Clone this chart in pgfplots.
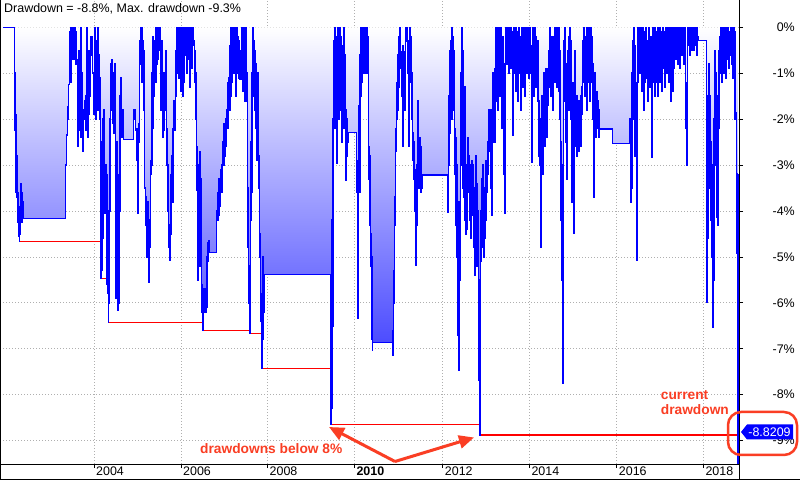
\documentclass[border=0pt]{standalone}
\usepackage{fontspec}
\setmainfont{Liberation Sans}
\usepackage{pgfplots}
\pgfplotsset{compat=1.18}
\usepackage{pgfplotstable}
\usetikzlibrary{arrows.meta}
\definecolor{ddblue}{RGB}{0,0,255}
\definecolor{fillblue}{RGB}{24,24,255}
\definecolor{annot}{RGB}{250,62,36}
\definecolor{gridgray}{RGB}{175,175,175}

\pgfplotstableread[row sep=\\]{
x y\\
3 0\\ 14 0\\ 14.5 -1.0\\ 15 -2.25\\ 15.5 -1.9\\ 16 -3.6\\ 16.5 -2.8\\ 17 -3.7\\ 17.5 -3.6\\ 18 -4.25\\ 18.5 -3.9\\ 19 -4.55\\ 19.3 -4.66\\ 19.7 -4.0\\ 20.2 -4.5\\ 20.6 -3.4\\ 21 -4.1\\ 21.5 -3.6\\ 22 -4.25\\ 22.5 -3.8\\ 22.8 -4.16\\
65.7 -3.0\\ 66.7 -2.35\\ 67.3 -1.74\\ 68 -2.0\\ 68.7 -1.25\\ 69.3 -1.1\\ 70 -0.1\\ 70.4 -1.2\\ 70.8 0\\ 71.3 -0.9\\ 71.7 0\\ 72.2 -0.7\\ 72.7 -0.2\\ 73.3 -0.7\\ 74 0\\ 74.5 -0.6\\ 75 0\\ 75.5 -0.8\\ 76 -0.1\\ 76.5 -0.7\\ 77.3 -2.6\\ 77.8 -1.5\\ 78.5 -2.25\\ 79 -0.5\\ 80 -1.2\\ 80.5 0\\ 81.2 -2.4\\ 81.8 -1.0\\ 82.5 -2.7\\ 83 -1.8\\ 84 -2.0\\ 84.5 -1.6\\ 85.3 -2.25\\ 86 -1.5\\ 86.8 0\\ 87.5 -2.4\\ 88 -0.5\\ 89 -1.9\\ 89.5 -0.8\\ 90 -1.5\\ 90.5 -0.6\\ 91.2 -0.2\\ 92 -0.6\\ 92.7 -1.0\\ 93.5 -1.9\\ 94 -1.2\\ 95 0\\ 95.5 -1.3\\ 96 -2.0\\ 96.5 -0.3\\ 97 -1.2\\ 97.5 0\\ 98 -1.8\\ 98.7 -0.6\\ 99.3 -2.0\\ 100 -1.1\\
100.5 -4.8\\ 100.8 -5.47\\ 101.3 -5.3\\ 101.8 -2.5\\ 102.3 -4.6\\ 102.8 -2.0\\ 103.3 -1.8\\ 103.8 -2.9\\ 104.2 -2.1\\ 104.7 -3.9\\ 105.2 -4.05\\ 105.7 -3.0\\ 106.2 -4.0\\ 106.7 -5.6\\ 107.2 -3.2\\ 107.7 -5.8\\ 108.3 -6.42\\ 108.7 -6.0\\ 109.2 -4.0\\
109.8 -2.0\\ 110.3 -0.8\\ 111 -1.8\\ 111.7 -0.7\\ 112.3 -1.5\\ 113 -2.1\\ 113.5 -1.0\\ 114.2 -2.3\\ 114.8 -0.8\\ 115.3 -3.5\\ 115.8 -5.9\\ 116.3 -4.5\\ 116.8 -2.5\\ 117.3 -6.16\\ 117.8 -5.5\\ 118.3 -6.0\\ 118.8 -3.2\\ 119.3 -4.0\\ 119.8 -1.5\\ 120.3 -2.3\\ 120.8 -1.1\\ 121.5 -1.8\\ 122 -2.4\\ 122.7 -1.8\\ 123.3 -2.44\\
133.3 -1.8\\ 134 -2.0\\ 134.7 -1.8\\ 135.3 -2.2\\ 136 -2.25\\ 136.7 -2.9\\ 137.3 -2.2\\ 138 -4.05\\ 138.3 -2.5\\ 139 -2.1\\ 139.5 -0.3\\ 140 -0.5\\ 140.5 0\\ 141 -0.8\\ 141.5 0\\ 142 -1.2\\ 142.7 -0.3\\ 143.3 -1.8\\ 144 -0.5\\ 144.7 -3.5\\ 145.3 -4.3\\ 145.8 -3.7\\ 146.3 -4.6\\ 147 -5.0\\ 147.5 -3.8\\ 148 -4.85\\ 149 -5.55\\ 149.5 -4.2\\ 150 -4.8\\ 150.5 -3.2\\ 151 -2.9\\ 151.5 -3.0\\ 152 -1.0\\ 152.5 -2.2\\ 153 -0.2\\ 153.5 -1.5\\ 154 -0.5\\ 154.5 -0.3\\ 155 -0.8\\ 155.5 0\\ 156 -1.2\\ 156.5 -0.2\\ 157 -0.8\\ 157.5 0\\ 158 -0.7\\ 158.5 -0.1\\ 159 -0.5\\ 159.5 0\\ 160 -0.3\\ 160.5 -1.8\\ 161 -0.5\\ 161.5 -1.2\\ 162 -0.3\\ 162.5 -1.0\\ 163 -2.4\\ 163.5 -1.5\\ 164 -2.25\\ 164.5 -1.0\\ 165 -1.8\\ 165.5 -0.5\\ 166 -1.5\\
166.7 -3.0\\ 167.2 -2.2\\ 167.7 -4.0\\ 168.2 -3.0\\ 168.7 -4.8\\ 169.3 -5.07\\ 169.8 -4.3\\ 170.3 -3.2\\ 170.8 -4.5\\ 171.3 -3.4\\ 171.8 -2.8\\ 172.3 -3.8\\ 172.8 -2.2\\ 173.3 -1.6\\ 173.8 -2.2\\ 174.3 -1.8\\ 174.8 -2.25\\ 175.3 -1.5\\ 175.8 -0.5\\ 176.3 0\\ 176.8 -1.0\\
177.3 0\\ 177.8 -0.6\\ 178.3 -0.2\\ 178.8 -1.1\\ 179.3 0\\ 179.8 -0.8\\ 180.3 0\\ 180.8 -1.4\\ 181.3 -0.2\\ 181.8 -0.9\\ 182.3 0\\ 182.8 -1.5\\ 183.3 -0.6\\ 183.8 -1.2\\ 184.3 0\\ 184.8 -0.5\\ 185.3 0\\ 185.8 -0.6\\ 186.3 -0.1\\ 186.8 -1.0\\ 187.3 0\\ 187.8 -0.4\\ 188.3 0\\ 188.8 -0.7\\ 189.3 -0.2\\ 189.8 -1.3\\ 190.3 0\\ 190.8 -0.5\\ 191.3 -0.1\\ 191.8 -0.9\\ 192.3 -0.4\\ 193 0\\
193.5 -0.3\\ 194.3 -1.2\\ 195 -0.5\\ 195.5 -2.0\\ 196 -1.0\\ 196.5 -3.55\\ 197 -2.6\\ 197.5 -4.3\\ 198 -5.5\\ 198.5 -3.0\\ 199 -4.0\\ 199.5 -2.7\\ 200 -5.2\\ 200.5 -3.3\\ 201 -4.4\\ 201.5 -5.6\\ 202 -6.2\\ 202.5 -5.8\\ 203 -6.6\\ 203.5 -6.0\\ 204 -5.7\\ 204.5 -6.2\\ 205 -5.9\\ 205.5 -6.2\\ 206 -5.7\\ 206.5 -6.1\\ 207 -5.0\\ 207.5 -4.7\\ 208 -5.1\\ 208.5 -4.65\\ 209.3 -4.9\\ 216.7 -4.0\\ 217.3 -4.2\\ 218 -3.6\\ 218.5 -4.1\\ 219.2 -3.3\\ 220 -3.9\\ 220.5 -3.1\\ 221.2 -3.6\\ 222 -3.0\\ 222.7 -2.5\\ 223.3 -3.0\\ 224 -2.1\\ 224.7 -2.8\\ 225.3 -2.0\\ 226 -2.6\\ 226.7 -1.8\\ 227.3 -1.2\\ 228 -2.2\\ 228.7 -1.1\\ 229.3 -1.8\\ 230 -0.4\\ 230.5 -1.5\\ 231 0\\ 231.5 -1.2\\ 232 -0.3\\ 232.5 -0.8\\ 233 0\\ 233.5 -1.0\\ 234 -0.2\\ 234.5 -0.7\\ 235 0\\ 235.5 -1.5\\ 236 -0.5\\ 236.5 -1.0\\ 237 0\\ 237.5 -0.6\\ 238 -0.2\\ 238.5 -1.1\\ 239 -0.3\\ 239.7 -1.13\\ 241 -0.5\\ 241.5 -1.13\\ 242 0\\ 242.5 -1.4\\ 243 -0.2\\ 243.5 -0.9\\ 244 0\\ 244.5 -1.6\\ 245 -0.3\\ 245.5 -1.0\\ 246 0\\ 246.5 -1.6\\ 247 -1.0\\ 247.5 -3.5\\ 248 -4.8\\ 248.5 -6.0\\ 249 -5.2\\ 249.5 -6.4\\ 250 -6.67\\ 250.5 -4.2\\ 251 -2.5\\ 251.5 -3.6\\ 252 -1.0\\ 252.5 -0.2\\ 253 0\\ 253.5 -1.5\\ 254 -0.3\\ 254.5 -1.8\\ 255 -0.5\\ 255.5 -2.2\\ 256 -0.8\\ 256.5 -2.9\\ 257 -1.6\\ 257.5 -2.0\\ 258 -1.0\\ 258.5 -3.5\\ 259 -2.8\\ 259.5 -5.0\\ 260 -4.5\\ 260.5 -6.4\\ 261 -5.8\\ 261.7 -7.43\\ 262.2 -6.0\\ 262.7 -5.0\\ 263.2 -6.8\\ 263.7 -5.5\\ 264.2 -6.2\\ 264.7 -5.38\\
330.3 -8.65\\ 330.8 -7.6\\ 331.3 -8.3\\ 331.8 -4.2\\ 332.3 -6.5\\ 332.8 -2.0\\ 333.3 -0.3\\ 333.8 -1.5\\ 334.3 0\\ 334.8 -2.2\\ 335.3 -0.5\\ 335.8 -1.8\\ 336.3 -0.2\\ 336.8 -2.96\\ 337.3 -1.0\\ 337.8 0\\ 338.3 -2.0\\ 338.8 -0.4\\ 339.3 -1.8\\ 339.8 0\\ 340.3 -0.8\\ 340.8 -0.2\\ 341.3 -1.3\\ 341.8 -2.5\\ 342.3 -0.4\\ 342.8 -1.2\\ 343.3 0\\ 343.8 -2.2\\ 344.3 -0.6\\ 344.8 -1.5\\ 345.3 -3.33\\ 345.8 -1.8\\ 346.3 -2.8\\ 346.8 -2.0\\ 347.3 -2.5\\ 348 -2.29\\ 356.3 -2.9\\ 356.8 -3.6\\ 357.3 -6.34\\ 357.8 -5.2\\ 358.3 -3.4\\ 358.8 -1.7\\ 359.3 -3.6\\ 359.8 -0.6\\ 360.3 -1.5\\ 360.8 0\\ 361.3 -1.2\\ 361.8 -0.2\\ 362.3 -0.8\\ 362.8 0\\ 363.3 -1.0\\ 363.8 -0.4\\ 364.3 0\\ 364.8 -1.0\\ 365.3 -0.2\\ 365.8 -0.7\\ 366.3 0\\ 366.8 -1.0\\ 367.3 -0.2\\ 367.8 -0.6\\ 368.3 -2.6\\ 368.8 -3.3\\ 369.3 -4.3\\ 369.8 -2.8\\ 370.3 -5.2\\ 370.8 -4.5\\ 371.3 -6.8\\ 371.8 -5.0\\ 372.3 -7.03\\ 372.7 -6.86\\ 392.7 -6.6\\ 393.2 -7.14\\ 393.7 -6.0\\ 394.2 -5.3\\ 394.7 -3.7\\ 395.2 -4.3\\ 395.7 -2.2\\ 396.2 -2.7\\ 396.7 -2.0\\ 397.2 -1.2\\ 397.7 -1.8\\ 398.2 -0.6\\ 398.7 -1.3\\ 399.2 -0.2\\ 399.7 -0.9\\ 400.2 0\\ 400.7 -0.54\\ 402.2 -1.5\\ 402.7 -0.4\\ 403.2 -2.6\\ 403.7 -0.54\\ 404.3 -1.8\\ 404.8 -0.54\\ 405.5 0\\ 406.3 -0.3\\ 406.8 0\\ 407.3 -1.0\\ 407.8 -0.3\\ 408.3 -2.6\\ 408.8 -0.5\\ 409.3 -1.2\\ 409.8 0\\ 410.3 -0.8\\ 410.8 -0.2\\ 411.3 -1.0\\ 411.8 -2.0\\ 412.3 -2.9\\ 412.8 -2.3\\ 413.3 -3.3\\ 413.8 -2.5\\ 414.3 -4.0\\ 414.8 -3.1\\ 415.3 -5.18\\ 415.8 -4.3\\ 416.3 -3.0\\ 416.8 -4.3\\ 417.3 -2.8\\ 417.8 -1.6\\ 418.3 -3.5\\ 418.8 -2.5\\ 419.3 -3.3\\ 419.8 -2.4\\ 420.3 -3.6\\ 420.8 -2.6\\ 421.3 -3.5\\ 421.8 -3.22\\
448 -4.03\\ 448.5 -3.0\\ 449 -1.5\\ 449.5 -2.3\\ 450 -0.5\\ 450.5 -1.2\\ 451 -0.3\\ 451.5 -2.0\\ 452 0\\ 452.5 -1.0\\ 453 -0.2\\ 453.5 -1.8\\ 454 -0.5\\ 454.5 -2.2\\ 455 -3.2\\ 455.5 -2.4\\ 456 -4.3\\ 456.5 -3.0\\ 457 -5.0\\ 457.5 -3.8\\ 458 -6.7\\ 458.5 -4.6\\ 459 -7.46\\ 459.5 -5.5\\ 460 -3.8\\ 460.5 -1.0\\ 461 -3.0\\ 461.5 0\\ 462 -1.2\\ 462.5 -3.5\\ 463 -0.5\\ 463.5 -2.0\\ 464 -3.7\\ 464.5 -1.3\\ 465 -4.2\\ 465.5 -3.0\\ 466 -4.5\\ 466.5 -3.3\\ 467 -4.4\\ 467.5 -3.1\\ 468 -2.4\\ 468.5 -3.6\\ 469 -2.8\\ 469.5 -4.2\\ 470 -3.0\\ 470.5 -4.6\\ 471 -3.6\\ 471.5 -4.1\\ 472 -2.9\\ 472.5 -3.8\\ 473 -3.0\\ 473.5 -4.8\\ 474 -3.5\\ 474.5 -5.4\\ 475 -3.8\\ 475.5 -2.8\\ 476 -4.6\\ 476.5 -3.4\\ 477 -5.2\\ 477.5 -4.0\\ 478 -4.6\\ 478.5 -7.68\\ 479 -6.5\\ 479.3 -8.88\\ 479.8 -5.5\\ 480.3 -4.0\\ 480.8 -5.1\\ 481.3 -3.3\\ 481.8 -4.8\\ 482.3 -3.0\\ 482.8 -4.5\\ 483.3 -3.5\\ 483.8 -5.0\\ 484.3 -3.6\\ 484.8 -4.6\\ 485.3 -2.9\\ 485.8 -4.2\\ 486.3 -3.0\\ 486.8 -3.6\\ 487.3 -2.5\\ 487.8 -3.2\\ 488.3 -1.8\\ 488.8 -2.7\\ 489.3 -2.0\\ 489.8 -2.5\\
490.3 -1.8\\ 490.8 -3.5\\ 491.3 -2.2\\ 491.8 -4.1\\ 492.3 -2.5\\ 492.8 -1.0\\ 493.3 -2.3\\ 493.8 -1.2\\ 494.3 -2.5\\ 494.8 -0.9\\ 495.3 -1.6\\ 495.8 0\\ 496.3 -1.0\\ 496.8 -0.2\\ 497.3 -1.8\\ 497.8 0\\ 498.3 -0.8\\ 498.8 0\\ 499.3 -1.5\\ 499.8 -0.3\\ 500.3 -1.2\\ 500.8 0\\ 501.3 -2.2\\ 501.8 -0.6\\ 502.3 -1.5\\ 502.8 -0.2\\ 503.3 -3.2\\ 503.8 -0.8\\ 504.3 -1.8\\ 504.8 -4.05\\ 505.3 -0.6\\ 505.8 0\\ 506.3 -0.8\\ 506.8 0\\ 507.3 -0.5\\ 507.8 0\\ 508.3 -1.0\\ 508.8 -0.2\\ 509.3 -0.7\\ 509.8 0\\ 510.3 -0.9\\ 510.8 0\\ 511.3 -0.6\\ 511.8 -0.1\\ 512.3 -1.2\\ 512.8 -2.35\\ 513.3 -0.5\\ 513.8 0\\ 514.3 -1.0\\ 514.8 -0.2\\ 515.3 -1.4\\ 515.8 0\\ 516.3 -0.8\\ 516.8 -0.1\\ 517.3 -1.6\\ 517.8 -0.4\\ 518.3 -1.0\\ 518.8 0\\ 519.3 -0.7\\ 519.8 -0.2\\ 520.3 -1.8\\ 520.8 -0.5\\ 521.3 -1.2\\ 521.8 0\\ 522.3 -1.3\\ 522.8 -0.3\\ 523.3 -0.8\\ 523.8 0\\ 524.3 -1.5\\ 524.8 -0.4\\ 525.3 -1.0\\ 525.8 0\\ 526.3 -0.6\\ 526.8 0\\ 527.3 -1.0\\ 527.8 -0.2\\ 528.3 -1.1\\ 528.8 0\\ 529.3 -0.5\\ 529.8 0\\ 530.3 -1.0\\ 530.8 -0.4\\ 531.3 -2.94\\ 531.8 -0.6\\ 532.3 0\\ 532.8 -1.2\\ 533.3 -0.3\\ 533.8 -1.5\\ 534.3 0\\ 534.8 -0.8\\ 535.3 -0.2\\ 535.8 -1.3\\ 536.3 -0.5\\ 536.8 -1.0\\ 537.3 -0.3\\ 537.8 -1.6\\ 538.3 -2.8\\ 538.8 -1.6\\ 539.3 -3.0\\ 539.8 -2.0\\ 540.3 -4.8\\ 540.8 -2.5\\ 541.3 -1.5\\ 541.8 -2.8\\ 542.3 -1.8\\ 542.8 -3.2\\ 543.3 -1.0\\ 543.8 -2.5\\ 544.3 -1.5\\ 544.8 -2.6\\ 545.3 -0.9\\ 545.8 -2.2\\ 546.3 -1.2\\ 546.8 -2.4\\ 547.3 -0.9\\ 547.8 -1.7\\ 548.3 -0.5\\ 548.8 -1.3\\ 549.3 0\\ 549.8 -1.0\\ 550.3 -0.2\\ 550.8 -1.5\\ 551.3 -0.4\\ 551.8 -1.0\\ 552.3 -0.2\\ 552.8 -1.8\\ 553.3 -0.6\\ 553.8 -1.0\\ 554.3 0\\ 554.8 -1.2\\ 555.3 -0.2\\ 555.8 -0.8\\ 556.3 0\\ 556.8 -1.3\\ 557.3 -0.3\\ 557.8 -0.9\\ 558.3 0\\ 558.8 -1.4\\ 559.3 -0.5\\ 559.8 -2.0\\ 560.3 -2.5\\ 560.8 -4.2\\ 561.3 -3.0\\ 561.8 -5.5\\ 562.3 -7.75\\ 562.8 -4.0\\ 563.3 -1.5\\ 563.8 -0.3\\ 564.3 -1.6\\ 564.8 0\\ 565.3 -1.0\\ 565.8 -2.5\\ 566.3 -0.8\\ 566.8 -3.3\\ 567.3 -1.5\\ 567.8 -0.5\\ 568.3 -1.8\\ 568.8 -0.2\\ 569.3 -1.0\\ 569.8 0\\ 570.3 -2.0\\ 570.8 -0.3\\ 571.3 -1.5\\ 571.8 -3.8\\ 572.3 -1.2\\ 572.8 -2.5\\ 573.3 -4.48\\ 573.8 -1.8\\ 574.3 -0.5\\ 574.8 -2.6\\ 575.3 -1.8\\ 575.8 -2.5\\ 576.3 -1.5\\ 576.8 -2.8\\ 577.3 -1.8\\ 577.8 -2.4\\ 578.3 -1.6\\ 578.8 -2.7\\ 579.3 -1.8\\ 579.8 -2.3\\ 580.3 -1.5\\ 580.8 -2.6\\ 581.3 -1.3\\ 581.8 -1.9\\ 582.3 -0.3\\ 582.8 -1.2\\ 583.3 0\\ 583.8 -0.8\\ 584.3 -0.2\\ 584.8 -1.5\\ 585.3 -0.4\\ 585.8 -1.0\\ 586.3 0\\ 586.8 -1.8\\ 587.3 -0.6\\ 587.8 -1.2\\ 588.3 0\\ 588.8 -0.9\\ 589.3 -0.2\\ 589.8 -1.6\\ 590.3 -0.3\\ 590.8 0\\ 591.3 -1.2\\ 591.8 -0.2\\ 592.3 -2.0\\ 592.8 -0.8\\ 593.3 -1.5\\ 593.8 -3.7\\ 594.3 -2.0\\ 594.8 -1.0\\ 595.3 -2.4\\ 595.8 -1.5\\ 596.3 -2.0\\ 596.8 -1.4\\ 597.3 -2.2\\ 597.8 -1.6\\ 598.3 -2.4\\ 598.8 -1.8\\ 599.3 -2.22\\ 612.7 -2.53\\
630 -2.0\\ 630.5 -3.8\\ 631 -2.5\\ 631.5 -1.0\\ 632 -3.5\\ 632.5 -0.3\\ 633 -2.0\\ 633.5 0\\ 634 -1.5\\ 634.5 -0.4\\ 635 -2.8\\ 635.5 -1.2\\ 636 -2.5\\ 636.7 -5.07\\ 637.2 -3.0\\ 637.7 -1.2\\ 638.2 0\\ 638.7 -0.6\\ 639.2 0\\ 639.7 -1.0\\ 640.2 -0.2\\ 640.7 -0.8\\ 641.2 0\\ 641.7 -1.4\\ 642.2 -0.5\\ 642.7 -1.0\\ 643.2 0\\ 643.7 -1.8\\ 644.2 -0.6\\ 644.7 -1.2\\ 645.2 -0.1\\ 645.7 -0.7\\ 646.2 0\\ 646.7 -1.1\\ 647.2 -0.3\\ 647.7 -1.6\\ 648.2 -0.6\\ 648.7 -1.0\\ 649.2 0\\ 649.7 -1.3\\ 650.2 -0.4\\ 650.7 -1.1\\ 651.2 -0.2\\ 651.7 -2.83\\ 652.2 -0.5\\ 652.7 -1.2\\ 653.2 0\\ 653.7 -0.8\\ 654.2 -0.2\\ 654.7 -1.5\\ 655.2 0\\ 655.7 -0.6\\ 656.2 -0.1\\ 656.7 -1.2\\ 657.2 -0.3\\ 657.7 -1.5\\ 658.2 0\\ 658.7 -0.8\\ 659.2 -0.2\\ 659.7 -1.2\\ 660.2 0\\ 660.7 -0.6\\ 661.2 -0.1\\ 661.7 -1.4\\ 662.2 -0.3\\ 662.7 -0.9\\ 663.2 0\\ 663.7 -0.5\\ 664.2 -0.1\\ 664.7 -1.3\\ 665.2 -0.2\\ 665.7 -0.8\\ 666.2 0\\ 666.7 -1.0\\ 667.2 -0.2\\ 667.7 -0.6\\ 668.2 0\\ 668.7 -1.2\\ 669.2 -0.3\\ 669.7 -0.7\\ 670.2 0\\ 670.7 -1.6\\ 671.2 -0.5\\ 671.7 -1.0\\ 672.2 0\\ 672.7 -1.4\\ 673.2 -0.4\\ 673.7 -0.9\\ 674.2 0\\ 674.7 -0.5\\ 675.2 -0.1\\ 675.7 -0.7\\ 676.2 0\\ 676.7 -0.4\\ 677.2 -0.1\\ 677.7 -0.8\\ 678.2 0\\ 678.7 -0.3\\ 679.2 0\\ 679.7 -0.9\\ 680.2 -0.2\\ 680.7 -0.5\\ 681.2 0\\ 681.7 -0.6\\ 682.2 0\\ 682.7 -0.3\\ 683.2 0\\ 683.7 -0.8\\ 684.2 -0.2\\ 684.7 -0.5\\ 685.2 0\\ 685.7 -1.6\\ 686.2 -2.2\\ 686.7 -3.0\\ 687.2 -1.2\\ 687.7 -0.4\\ 688.2 0\\ 688.7 -0.4\\ 689.2 0\\ 689.7 -0.6\\ 690.2 -0.1\\ 690.7 -0.3\\ 691.2 0\\ 691.7 -0.5\\ 692.2 0\\ 692.7 -0.3\\ 693.2 0\\ 693.7 -0.5\\ 694.2 -0.1\\ 694.7 0\\ 695.2 -0.4\\ 695.7 0\\ 696.2 -0.3\\ 696.7 0\\ 697.2 -0.6\\ 697.7 -0.2\\ 698.3 -0.29\\
706.7 -5.98\\ 707.2 -2.0\\ 707.7 -4.6\\ 708.2 -1.5\\ 708.7 -3.5\\ 709.2 -0.8\\ 709.7 -3.2\\ 710.2 -1.5\\ 710.7 -4.2\\ 711.2 -2.5\\ 711.7 -5.0\\ 712.2 -3.0\\ 712.7 -6.53\\ 713.2 -4.0\\ 713.7 -5.5\\ 714.2 -2.0\\ 714.7 -0.5\\ 715.2 -1.8\\ 715.7 -3.0\\ 716.2 -1.0\\ 716.7 -4.13\\ 717.2 -2.5\\ 717.7 -4.3\\ 718.2 -1.5\\ 718.7 -0.5\\ 719.2 -2.2\\ 719.7 -0.2\\ 720.2 -1.0\\ 720.7 0\\ 721.2 -0.8\\ 721.7 -0.2\\ 722.2 -1.2\\ 722.7 0\\ 723.2 -0.6\\ 723.7 -0.2\\ 724.2 -1.0\\ 724.7 0\\ 725.2 -0.4\\ 725.7 0\\ 726.2 -1.1\\ 726.7 -0.3\\ 727.2 -0.7\\ 727.7 0\\ 728.2 -0.5\\ 728.7 -0.1\\ 729.2 -0.9\\ 729.7 -0.2\\ 730.2 -0.6\\ 730.7 0\\ 731.2 -0.4\\ 731.7 0\\ 732.2 -0.8\\ 732.7 -0.2\\ 733.2 -1.1\\ 733.7 0\\ 734.2 -0.5\\ 734.7 -0.1\\ 735.2 -2.0\\ 736.2 -1.87\\ 736.7 -3.18\\ 737.2 -4.92\\ 737.5 -5.57\\ 737.8 -8.82\\
}\dd

\pgfplotstableread[row sep=\\]{
x y\\
3 0\\ 14 0\\ 14.5 -1.0\\ 15 -2.25\\ 16 -3.6\\ 17 -3.7\\ 18 -4.25\\ 19 -4.55\\ 19.3 -4.66\\ 100.8 -5.47\\ 108.3 -6.42\\ 203 -6.6\\ 250 -6.67\\ 261.7 -7.43\\ 330.3 -8.65\\ 479.3 -8.88\\ 738 -8.88\\
}\mdd

\begin{document}
\begin{tikzpicture}
\useasboundingbox (0,0) rectangle (800bp,480bp);
\fill[white] (0,0) rectangle (800bp,480bp);
\begin{axis}[
  at={(0,16bp)}, anchor=south west,
  scale only axis, width=739bp, height=464bp,
  xmin=0, xmax=739, ymin=-9.51, ymax=0.595,
  axis x line*=bottom, axis y line*=right,
  axis line style={black, line width=1bp},
  tick align=outside, major tick length=4bp,
  tick style={black, line width=0.8bp},
  xtick={94,181,267.5,354.3,442.7,529.3,616.7,703.3},
  xticklabels={2004,2006,2008,\textbf{2010},2012,2014,2016,2018},
  ytick={-9,-8,...,0},
  yticklabels={-9\%,-8\%,-7\%,-6\%,-5\%,-4\%,-3\%,-2\%,-1\%,0\%},
  grid=major,
  major grid style={gridgray, line width=0.8bp, dash pattern=on 1bp off 2bp},
  xticklabel style={font=\fontsize{12.5}{14}\selectfont, anchor=west, inner sep=0pt, xshift=2bp, yshift=-3.5bp},
  yticklabel style={font=\fontsize{12.5}{14}\selectfont, anchor=east, inner sep=0pt, xshift=52bp},
]
\addplot[const plot, draw=none, top color=white, bottom color=fillblue] table {\dd} \closedcycle;
\addplot[const plot, red, line width=1.2bp] table {\mdd};
\addplot[const plot, ddblue, line width=1.5bp] table {\dd};
\addplot[ddblue, line width=1.5bp] coordinates {(737.8,-3.2) (737.8,-9.51)};
\end{axis}
\draw[black, line width=1bp] (0.5bp,0) -- (0.5bp,480bp);
\draw[black, line width=1bp] (0,0.5bp) -- (800bp,0.5bp);
\draw[black, line width=1bp] (739bp,0) -- (739bp,16bp);
\node[anchor=base west, inner sep=0pt, font=\fontsize{12.5}{14}\selectfont] at (4bp,467.7bp) {Drawdown = -8.8\%, Max. drawdown -9.3\%};
\node[anchor=base west, inner sep=0pt, text=annot, font=\bfseries\fontsize{13.8}{16}\selectfont] at (200bp,26.7bp) {drawdowns below 8\%};
\node[anchor=base west, inner sep=0pt, text=annot, font=\bfseries\fontsize{13.8}{16}\selectfont] at (660.7bp,80.7bp) {current};
\node[anchor=base west, inner sep=0pt, text=annot, font=\bfseries\fontsize{13.8}{16}\selectfont] at (660.7bp,65bp) {drawdown};
\draw[annot, line width=3bp, -{Triangle[length=15bp,width=13bp]}] (395bp,18.5bp) -- (329bp,53bp);
\draw[annot, line width=3bp, -{Triangle[length=15bp,width=13bp]}] (395bp,18.5bp) -- (474bp,42.5bp);
\fill[ddblue] (741bp,48bp) -- (747bp,55.5bp) -- (793bp,55.5bp) -- (793bp,40.5bp) -- (747bp,40.5bp) -- cycle;
\node[text=white, font=\fontsize{12.5}{14}\selectfont, inner sep=0pt] at (769.5bp,48bp) {-8.8209};
\draw[annot, line width=2.5bp, rounded corners=13bp] (728bp,25bp) rectangle (797bp,68bp);
\end{tikzpicture}
\end{document}
